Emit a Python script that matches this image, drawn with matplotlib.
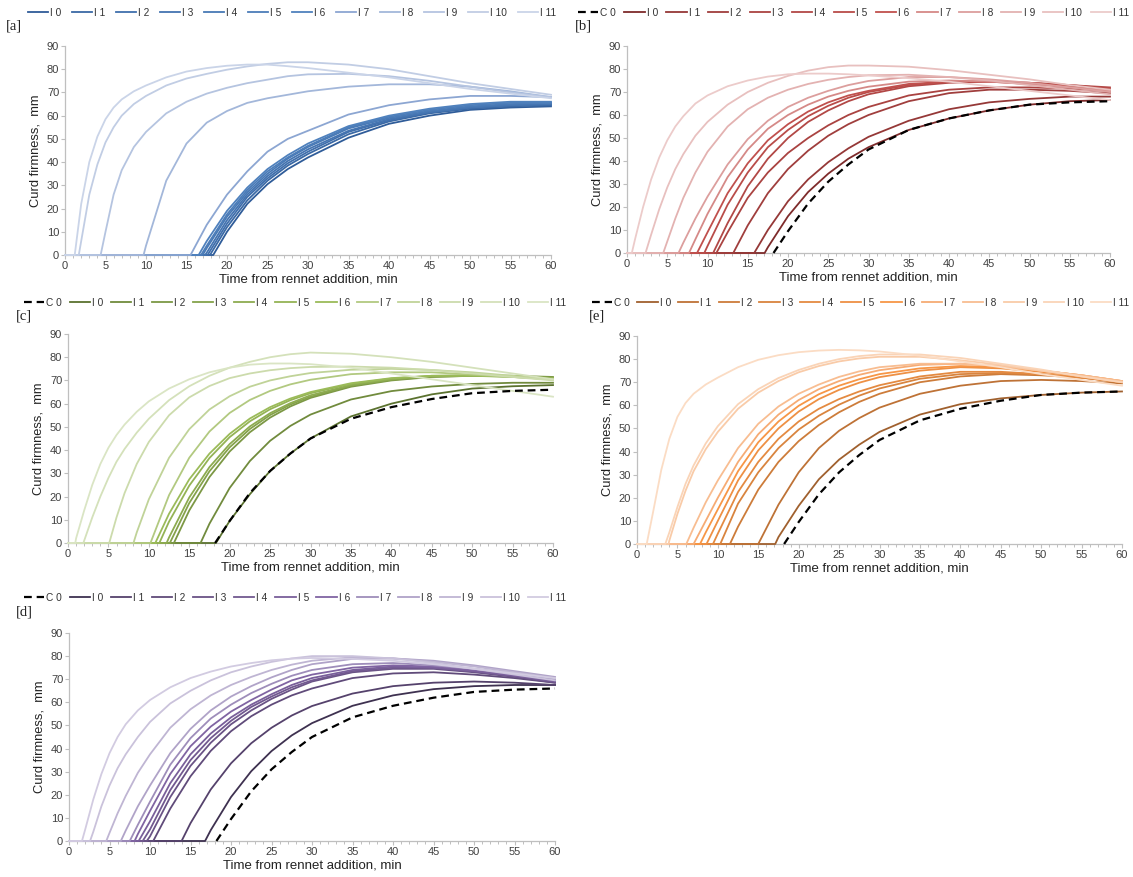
import matplotlib
matplotlib.use("Agg")
import matplotlib.pyplot as plt
from matplotlib.colors import to_rgb

plt.rcParams['font.family'] = ['Liberation Sans', 'DejaVu Sans']

# ---------------- data ----------------
TIMES = [0, 1, 2, 3, 4, 5, 6, 7, 8.5, 10, 12.5, 15, 17.5, 20, 22.5, 25, 27.5,
         30, 35, 40, 45, 50, 55, 60]
SERIES = ["I 0", "I 1", "I 2", "I 3", "I 4", "I 5", "I 6", "I 7", "I 8",
          "I 9", "I 10", "I 11"]
CONTROL = "C 0"

C0_ONSET = 18.2
C0_VALUES = [9.5, 21.5, 31, 38.5, 45, 53.5, 58.5, 62, 64.5, 65.5, 66]

# panel [a]
A_ONSETS = [18.3, 17.9, 17.6, 17.3, 17.0, 16.8, 16.5, 15.5, 9.7, 4.4, 1.7, 1.2]
A_VALUES = [
    [10, 22, 30.5, 37, 42, 50.5, 56.5, 60, 62.5, 63.5, 64],
    [12, 23.5, 32, 38.5, 43.5, 52, 57.5, 61, 63, 64, 64.5],
    [13.5, 25, 33, 39.5, 44.5, 53, 58, 61.5, 63.5, 64.5, 65],
    [1, 15, 26, 34, 40.5, 45.5, 53.5, 58.5, 61.5, 63.5, 64.5, 65],
    [3, 16.5, 27, 35, 41.5, 46.5, 54.5, 59, 62, 64, 65, 65.5],
    [4, 17.5, 28, 36, 42, 47, 55, 59.5, 62.5, 64.5, 65.5, 65.5],
    [6, 19, 29, 37, 43, 48, 55.5, 60, 63, 65, 66, 66],
    [13, 26, 36, 44.5, 50, 53.5, 60.5, 64.5, 67, 68.5, 68.5, 68],
    [4, 32, 48, 57, 62, 65.5, 67.5, 69, 70.5, 72.5, 73.5, 73.5, 72.5, 70.5, 68],
    [10, 26, 36.5, 46.5, 53, 61, 66, 69.5, 72, 74, 75.5, 77, 77.8, 78, 77, 75,
     72.5, 70, 68],
    [6, 26, 39, 48.5, 55, 60, 65, 68.5, 73, 76, 78, 79.8, 81.2, 82.3, 83, 83,
     82, 80, 77, 74, 71.5, 69],
    [22, 40, 51, 58.5, 63.5, 67, 70.5, 73, 76.5, 79, 80.5, 81.5, 82, 82, 81.3,
     80.5, 78.5, 76.5, 74, 71.5, 69.5, 67.5],
]

# panel [b]
B_ONSETS = [17.1, 15.8, 13.2, 11.1, 10.7, 9.6, 8.7, 7.7, 6.4, 4.5, 2.3, 0.6]
B_VALUES = [
    [2.5, 16, 26.5, 34.5, 41, 46, 53.5, 58.5, 62, 64.5, 66, 66.5],
    [10, 22.5, 32, 39.5, 45.5, 50.5, 57.5, 62.5, 65.5, 67, 68, 68],
    [12, 26, 36.5, 44.5, 51, 56, 60, 66, 69.5, 71, 71, 70.5, 69.5],
    [9, 24, 35, 43.5, 50, 55.5, 60, 63.5, 68.5, 71, 72, 72, 71.5, 70.5],
    [13, 29, 41, 50, 57, 62, 66, 69, 72.5, 74, 74.5, 74, 73, 72],
    [3, 21, 35, 46, 53.5, 59.5, 64, 67.5, 70, 73, 74.5, 74.5, 74, 73, 71.5],
    [9, 26, 39, 49, 56, 61.5, 65.5, 68.5, 70.5, 73.5, 74.5, 74.5, 73.5, 72.5, 71],
    [6, 17, 33, 45, 54, 60, 64.5, 68, 70.5, 72.3, 74.5, 75, 74.5, 73.5, 72, 70.5],
    [4.5, 15, 24.5, 38.5, 49.5, 57.5, 63.5, 67.5, 70.5, 73, 74.8, 76.5, 76.5,
     75.5, 74, 72, 70],
    [5, 15, 24, 35, 44, 55, 62.5, 67.5, 71, 73.5, 75.3, 76.5, 77.3, 77.5, 76.5,
     75, 73, 71, 69],
    [8, 19, 28.5, 36.5, 43, 51, 57, 64.5, 70, 74, 77, 79.3, 80.8, 81.5, 81.5,
     81, 79.5, 77.5, 75.5, 73, 71],
    [6, 20, 32, 41.5, 49, 55, 59.5, 65, 68.5, 72.5, 75, 76.7, 77.7, 78, 78,
     77.7, 77.2, 76, 74.5, 72.5, 70.5, 68.5, 66.5],
]

# panel [c]
C_ONSETS = [18.3, 16.4, 13.1, 12.6, 12.2, 11.3, 10.8, 10.2, 8.1, 5.1, 1.9, 0.9]
C_VALUES = [
    [9.5, 21, 31, 38.5, 45, 54.5, 60, 64, 66.5, 67.5, 68],
    [8.3, 23.7, 35.3, 44, 50.4, 55.3, 61.8, 65.4, 67.4, 68.5, 69, 69],
    [14, 28.4, 39.4, 47.7, 54, 58.8, 62.5, 67.3, 70, 71.5, 72, 72, 71.5],
    [17.2, 30.9, 41.2, 49.1, 55.1, 59.6, 63, 67.7, 70.3, 71.6, 72, 71.8, 71],
    [2.4, 19.6, 32.7, 42.6, 50.2, 55.9, 60.2, 63.6, 68, 70.5, 71.8, 72, 71.7, 70.8],
    [9.2, 24.7, 36.6, 45.6, 52.4, 57.6, 61.5, 64.5, 68.5, 70.8, 72, 72.3, 72, 71],
    [12.6, 27.4, 38.5, 47, 53.6, 58.5, 62.2, 65, 68.8, 71, 72, 72, 71.5, 70.5],
    [20.6, 36.7, 48, 56, 61.6, 65.5, 68.3, 70.3, 72.7, 73.5, 73.5, 72.5, 71.5, 70.5],
    [4.5, 18.8, 36.7, 49, 57.5, 63.2, 67.3, 70, 71.8, 73.2, 74.6, 75, 74.5, 73.5,
     72, 70.5],
    [11, 21.5, 34, 43.5, 55, 62.7, 67.6, 71, 73, 74.4, 75.3, 75.8, 76, 75.5,
     74.5, 73, 71.5, 70],
    [1, 11, 20, 28, 35, 40.5, 47.5, 53.5, 61.5, 67.5, 72, 75.5, 78, 80, 81.3,
     82, 81.5, 80, 78, 75.5, 73, 70.5],
    [2, 14, 25, 34, 41, 46.5, 51, 56.5, 61, 66.5, 70.5, 73.5, 75.5, 76.8, 77.3,
     77.3, 77, 75.5, 73, 70.5, 68, 65.5, 63],
]

# panel [e]
E_ONSETS = [17.1, 15.0, 11.5, 10.3, 9.4, 8.6, 7.8, 7.0, 6.1, 3.9, 3.5, 1.2]
E_VALUES = [
    [3, 16.5, 28, 36.5, 43, 48.5, 56, 60.5, 63, 64.5, 65.5, 66],
    [17, 31, 41.5, 49, 54.5, 59, 65, 68.5, 70.5, 71, 70.5, 69.5],
    [7.5, 23.5, 35.5, 44.5, 51.5, 57, 61.5, 65, 70, 72.5, 73.5, 73, 72, 70],
    [17.5, 31, 41.5, 49.5, 55.5, 60.3, 64.2, 67.3, 71.5, 73.5, 74, 73.5, 72, 70],
    [4.5, 22.5, 35.5, 45.5, 53, 58.5, 62.7, 66, 68.7, 72.5, 74.5, 74.5, 73.5, 72, 70],
    [10, 27.5, 40.5, 50, 57.3, 62.7, 66.7, 69.8, 72.2, 75, 76.5, 76, 74.5, 72.5, 70],
    [5, 15, 31.5, 44, 53, 59.8, 64.8, 68.5, 71.3, 73.5, 76, 77, 76.5, 75, 73, 70.5],
    [10, 20, 35.5, 47.5, 56, 62.3, 67, 70.5, 73.2, 75.2, 77.5, 78, 77, 75, 73, 70.5],
    [7, 18, 27.5, 41.5, 52, 59.5, 65, 69, 72.3, 74.7, 76.5, 78, 78, 77, 75, 73, 70.5],
    [1.5, 13, 23, 31.5, 41, 48.5, 58.5, 65.5, 70.5, 74.3, 77, 79, 80.3, 81, 81,
     79.5, 77.5, 75, 72.5, 70],
    [5, 16, 26, 34, 43.5, 51, 60.5, 67, 71.8, 75.3, 78, 80, 81.3, 82, 82, 80.5,
     78, 75.5, 72.5, 70],
    [14, 32, 45.5, 55, 61, 65, 69, 72, 76.5, 79.7, 81.7, 83, 83.7, 84, 83.8,
     83.3, 81.5, 79, 76.5, 73.5, 71, 68.5],
]

# panel [d]
D_ONSETS = [16.8, 13.9, 10.4, 9.6, 9.1, 8.6, 8.1, 7.5, 6.4, 4.6, 2.6, 1.6]
D_VALUES = [
    [4.7, 19, 30.2, 38.9, 45.7, 51, 58.5, 63, 65.7, 67, 67.5, 67.5],
    [7.7, 22.3, 33.6, 42.3, 49, 54.3, 58.4, 63.8, 67, 68.5, 69, 68.5, 67.5],
    [14, 28, 39, 47.5, 54, 59, 63, 66, 70.5, 72.5, 73, 72, 70.5, 68.5],
    [2, 19, 32.5, 42.5, 50.5, 56.5, 61.5, 65.5, 69, 73, 74.5, 74.5, 73, 71, 68.5],
    [5, 22, 35, 44.5, 52, 58, 62.5, 66.5, 69.5, 73.5, 75, 75, 73.5, 71.5, 69],
    [8.5, 25, 37.5, 46.5, 53.5, 59, 63.5, 67.5, 70.5, 74, 75.5, 75, 73.5, 71.5, 69],
    [3, 13, 29, 41, 49.5, 56, 61, 65.5, 69.5, 72, 75, 76, 75.5, 74, 72, 69.5],
    [7, 17, 33, 44.5, 53, 59, 64, 68, 71.5, 74, 76.5, 77, 76, 74.5, 72.5, 70],
    [4.5, 15, 24, 38, 48.5, 56.5, 62.5, 67, 70.8, 74, 76.5, 78.8, 79, 78, 76,
     73.5, 71],
    [3.5, 12, 19.5, 29.5, 37.5, 49, 57, 63, 67.5, 71, 74, 76.3, 78, 79.5, 79,
     77.5, 75.5, 73, 70.5],
    [4, 15, 24, 31.5, 37.5, 45, 51.5, 59.5, 65, 69.5, 73, 75.5, 77.5, 79, 80,
     80, 79, 77, 74.5, 72, 69.5],
    [5, 18, 29, 38, 45, 50.5, 56.5, 61, 66.5, 70.5, 73.3, 75.5, 77, 78.2, 78.9,
     79.2, 78.8, 78, 76.5, 74.5, 72.5, 70.5],
]

# ---------------- style ----------------
def mix(c1, c2, f):
    a, b = to_rgb(c1), to_rgb(c2)
    return tuple(a[i] + (b[i] - a[i]) * f for i in range(3))

def shades(dark, mid, lights):
    return [mix(dark, mid, (i / 6) ** 0.6) for i in range(7)] + lights

BLUE = shades("#2F5C99", "#4F81BD", ["#8CA6D2", "#A3B7DA", "#B5C4E0", "#C1CDE4", "#CAD4E8"])
RED = shades("#7E2B2B", "#C0504D", ["#D58987", "#DC9E9D", "#E3B2B1", "#E8C0BF", "#ECCBCA"])
GREEN = shades("#5B722F", "#9BBB59", ["#B2C980", "#C0D398", "#CCDBAC", "#D4E1BA", "#DAE5C4"])
ORANGE = shades("#A0602E", "#F79646", ["#F6AB74", "#F8BD91", "#F9CBA8", "#FAD4B7", "#FBDCC4"])
PURPLE = shades("#3E3150", "#8064A2", ["#9E8DBA", "#B0A3C8", "#BFB5D3", "#CAC2DB", "#D2CBE1"])

W, H = 1133, 877
fig = plt.figure(figsize=(W / 100, H / 100), dpi=100)

def px_axes(x0, x1, y0, y1):
    return fig.add_axes([x0 / W, 1 - y0 / H, (x1 - x0) / W, (y0 - y1) / H])

AXC = "#BFBFBF"
TXT = "#404040"

def panel(box, onsets, values, colors, with_c0, tag, tag_xy, leg_box):
    ax = px_axes(*box)
    handles = []
    for name, t0, vals, col in zip(SERIES, onsets, values, colors):
        ts = TIMES[-len(vals):]
        ln, = ax.plot([0, t0] + ts, [0, 0] + vals, color=col, lw=1.3,
                      clip_on=False, label=name, zorder=3)
        handles.append(ln)
    if with_c0:
        ts = TIMES[-len(C0_VALUES):]
        c0, = ax.plot([C0_ONSET] + ts, [0] + C0_VALUES, color="black", lw=1.6,
                      dashes=(3.5, 2.2), clip_on=False, label=CONTROL, zorder=4)
        handles = [c0] + handles
    ax.set_xlim(0, 60)
    ax.set_ylim(0, 90)
    ax.set_xticks(range(0, 61, 5))
    ax.set_xticks(range(0, 61, 1), minor=True)
    ax.set_yticks(range(0, 91, 10))
    for s in ("top", "right"):
        ax.spines[s].set_visible(False)
    for s in ("left", "bottom"):
        ax.spines[s].set_color(AXC)
        ax.spines[s].set_linewidth(0.9)
    ax.tick_params(which="major", direction="out", length=3, width=0.8,
                   color=AXC, labelsize=8, labelcolor=TXT, pad=1.2)
    ax.tick_params(which="minor", direction="out", length=2, width=0.7,
                   color=AXC)
    ax.tick_params(axis="y", which="minor", length=0)
    ax.set_xlabel("Time from rennet addition, min", fontsize=9.5, color="#222222",
                  labelpad=2.2)
    ax.set_ylabel("Curd firmness,  mm", fontsize=9.3, color="#222222", labelpad=4)
    fig.text(tag_xy[0] / W, 1 - tag_xy[1] / H, tag, family="Liberation Serif",
             fontsize=10.5, va="center", ha="left", color="#222222")
    lx0, lx1, ly = leg_box
    fig.legend(handles=handles, labels=[h.get_label() for h in handles],
               loc="center", bbox_to_anchor=(lx0 / W, 1 - (ly + 7) / H,
                                             (lx1 - lx0) / W, 14 / H),
               mode="expand", ncol=len(handles), frameon=False, fontsize=7.3,
               handlelength=2.0, handletextpad=0.2, borderaxespad=0,
               columnspacing=0.4, labelcolor="#333333")
    return ax

panel((65, 551, 255, 46), A_ONSETS, A_VALUES, BLUE, False, "[a]", (6, 26),
      (24, 560, 13))
panel((627, 1110, 253, 46), B_ONSETS, B_VALUES, RED, True, "[b]", (575, 26),
      (574, 1133, 13))
panel((68, 553, 543, 334), C_ONSETS, C_VALUES, GREEN, True, "[c]", (16, 316),
      (20, 570, 303))
panel((637, 1122, 544, 336), E_ONSETS, E_VALUES, ORANGE, True, "[e]", (589, 316),
      (588, 1133, 303))
panel((69, 555, 841, 633), D_ONSETS, D_VALUES, PURPLE, True, "[d]", (16, 612),
      (20, 570, 598))

fig.savefig("out.png", dpi=100)
